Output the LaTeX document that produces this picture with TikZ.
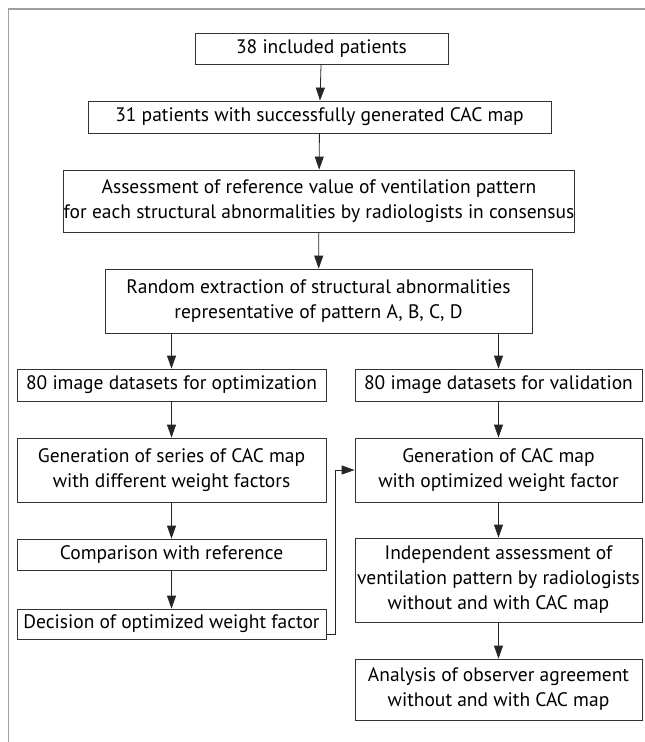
\documentclass[tikz,border=0pt]{standalone}
\usepackage{fontspec}
\setmainfont{PT Sans}
\usetikzlibrary{arrows.meta}

\begin{document}
\begin{tikzpicture}[x=1pt, y=-1pt,
    box/.style={draw=black!80, line width=0.8pt, inner sep=0pt, align=center,
        font=\fontsize{19.5}{25}\selectfont},
    arr/.style={draw=black!85, line width=0.8pt, -{Triangle[length=13pt,width=9pt]}}]
    \useasboundingbox (0,0) rectangle (645,742);

    % Frame (only top and left show)
    \draw[gray!75, line width=1.6pt] (8.5,742) -- (8.5,9) -- (645,9);

    % Main column
    \node[box, minimum width=253, minimum height=31] (incl) at (321.5,48.5) {38 included patients};
    \node[box, minimum width=463, minimum height=32] (cacgen) at (319.5,117) {31 patients with successfully generated CAC map};
    \node[box, minimum width=502, minimum height=62] (refval) at (319,201) {Assessment of reference value of ventilation pattern\\for each structural abnormalities by radiologists in consensus};
    \node[box, minimum width=427, minimum height=64] (extract) at (318.5,301) {Random extraction of structural abnormalities\\representative of pattern A, B, C, D};

    % Left column
    \node[box, minimum width=309, minimum height=32] (optset) at (171.5,385) {80 image datasets for optimization};
    \node[box, minimum width=309, minimum height=64] (series) at (171.5,470) {Generation of series of CAC map\\with different weight factors};
    \node[box, minimum width=309, minimum height=31] (compare) at (171.5,554.5) {Comparison with reference};
    \node[box, minimum width=309, minimum height=30] (decide) at (171.5,624) {Decision of optimized weight factor};

    % Right column
    \node[box, minimum width=287, minimum height=32] (valset) at (498.5,385) {80 image datasets for validation};
    \node[box, minimum width=287, minimum height=64] (optmap) at (498.5,470) {Generation of CAC map\\with optimized weight factor};
    \node[box, minimum width=287, minimum height=84] (assess) at (498.5,580) {Independent assessment of\\ventilation pattern by radiologists\\without and with CAC map};
    \node[box, minimum width=287, minimum height=61] (agree) at (498.5,689.5) {Analysis of observer agreement\\without and with CAC map};

    % Arrows
    \draw[arr] (incl) -- (cacgen);
    \draw[arr] (cacgen) -- (refval);
    \draw[arr] (refval) -- (extract);
    \draw[arr] (extract.south -| optset) -- (optset);
    \draw[arr] (extract.south -| valset) -- (valset);
    \draw[arr] (optset) -- (series);
    \draw[arr] (series) -- (compare);
    \draw[arr] (compare) -- (decide);
    \draw[arr] (valset) -- (optmap);
    \draw[arr] (optmap) -- (assess);
    \draw[arr] (assess) -- (agree);
    \draw[arr] ([yshift=-10pt]decide.east) -- ++(9,0) |- (optmap.west);
\end{tikzpicture}
\end{document}
